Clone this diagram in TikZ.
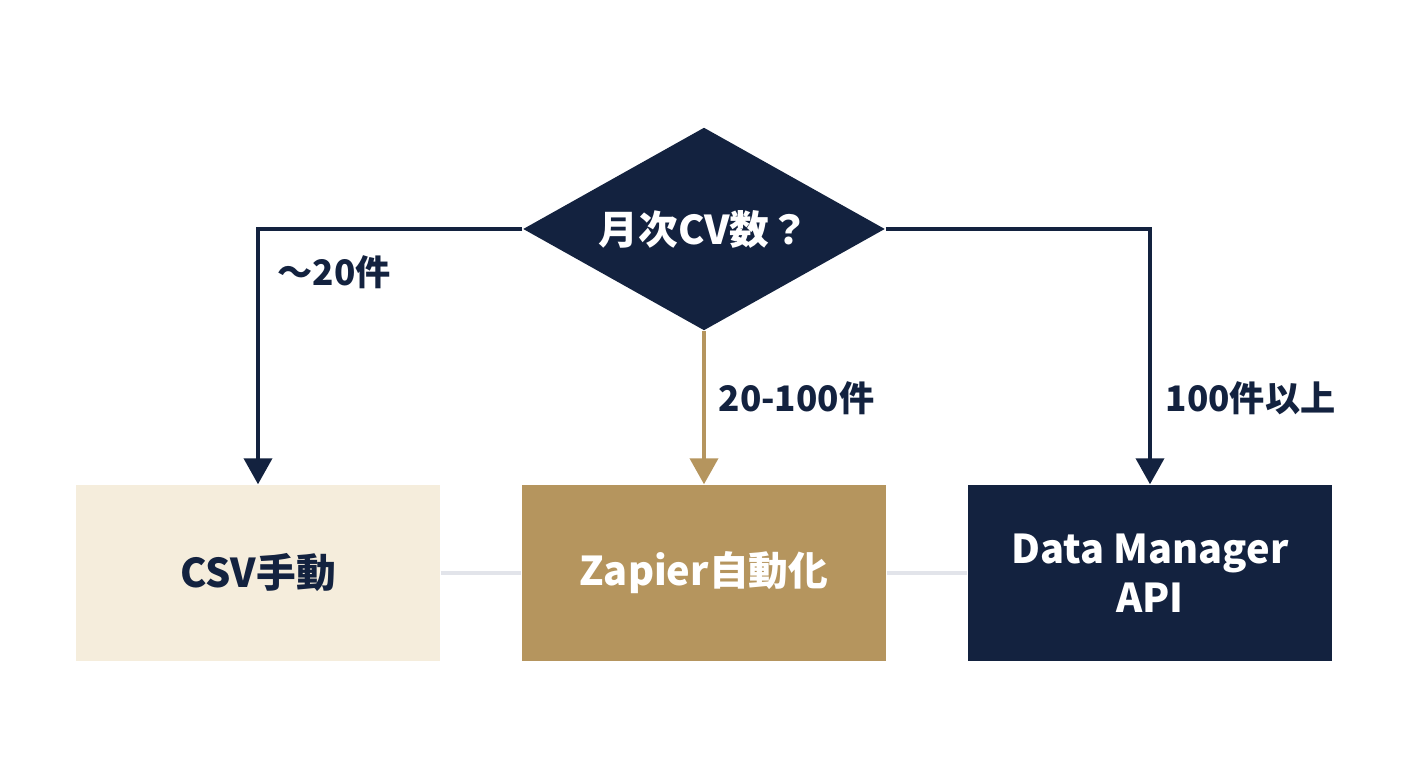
\documentclass[tikz,border=0pt]{standalone}
\usepackage{fontspec}
\setmainfont{Noto Sans CJK JP}
\usetikzlibrary{shapes.geometric,arrows.meta}
\definecolor{navy}{HTML}{13223F}
\definecolor{tan}{HTML}{B5955E}
\definecolor{cream}{HTML}{F5EDDC}
\definecolor{rule}{HTML}{E2E4EA}
\tikzset{
  box/.style={minimum width=3.64cm,minimum height=1.76cm,inner sep=0pt,align=center,
    font=\fontsize{11.3}{14}\selectfont\bfseries},
  flow/.style={line width=1.1pt,-{Triangle[width=2.8mm,length=2.6mm]}},
  lbl/.style={anchor=west,inner sep=0pt,text=navy,font=\fontsize{10}{12}\selectfont\bfseries}
}
\begin{document}
\begin{tikzpicture}
        \useasboundingbox (0,0) rectangle (14.08,7.68);
        \node[diamond,fill=navy,text=white,aspect=1.783,minimum width=3.62cm,minimum height=2.03cm,inner sep=0pt,
          font=\fontsize{11.3}{14}\selectfont\bfseries] (Q) at (7.04,5.39) {月次CV数？};
        \node[box,fill=cream,text=navy] (csv) at (2.58,1.95) {CSV手動};
        \node[box,fill=tan,text=white] (zap) at (7.04,1.95) {Zapier自動化};
        \node[box,fill=navy,text=white] (api) at (11.50,1.95) {Data Manager\\API};
        \draw[rule,line width=1.1pt] (csv) to (zap);
        \draw[rule,line width=1.1pt] (zap) to (api);
        \draw[flow,navy] (Q.west) -| (csv.north);
        \draw[flow,tan] (Q.south) to (zap.north);
        \draw[flow,navy] (Q.east) -| (api.north);
        \node[lbl] (few) at (2.77,4.96) {～20件};
        \node[lbl] (mid) at (7.18,3.70) {20-100件};
        \node[lbl] (many) at (11.65,3.70) {100件以上};
    \end{tikzpicture}
\end{document}
